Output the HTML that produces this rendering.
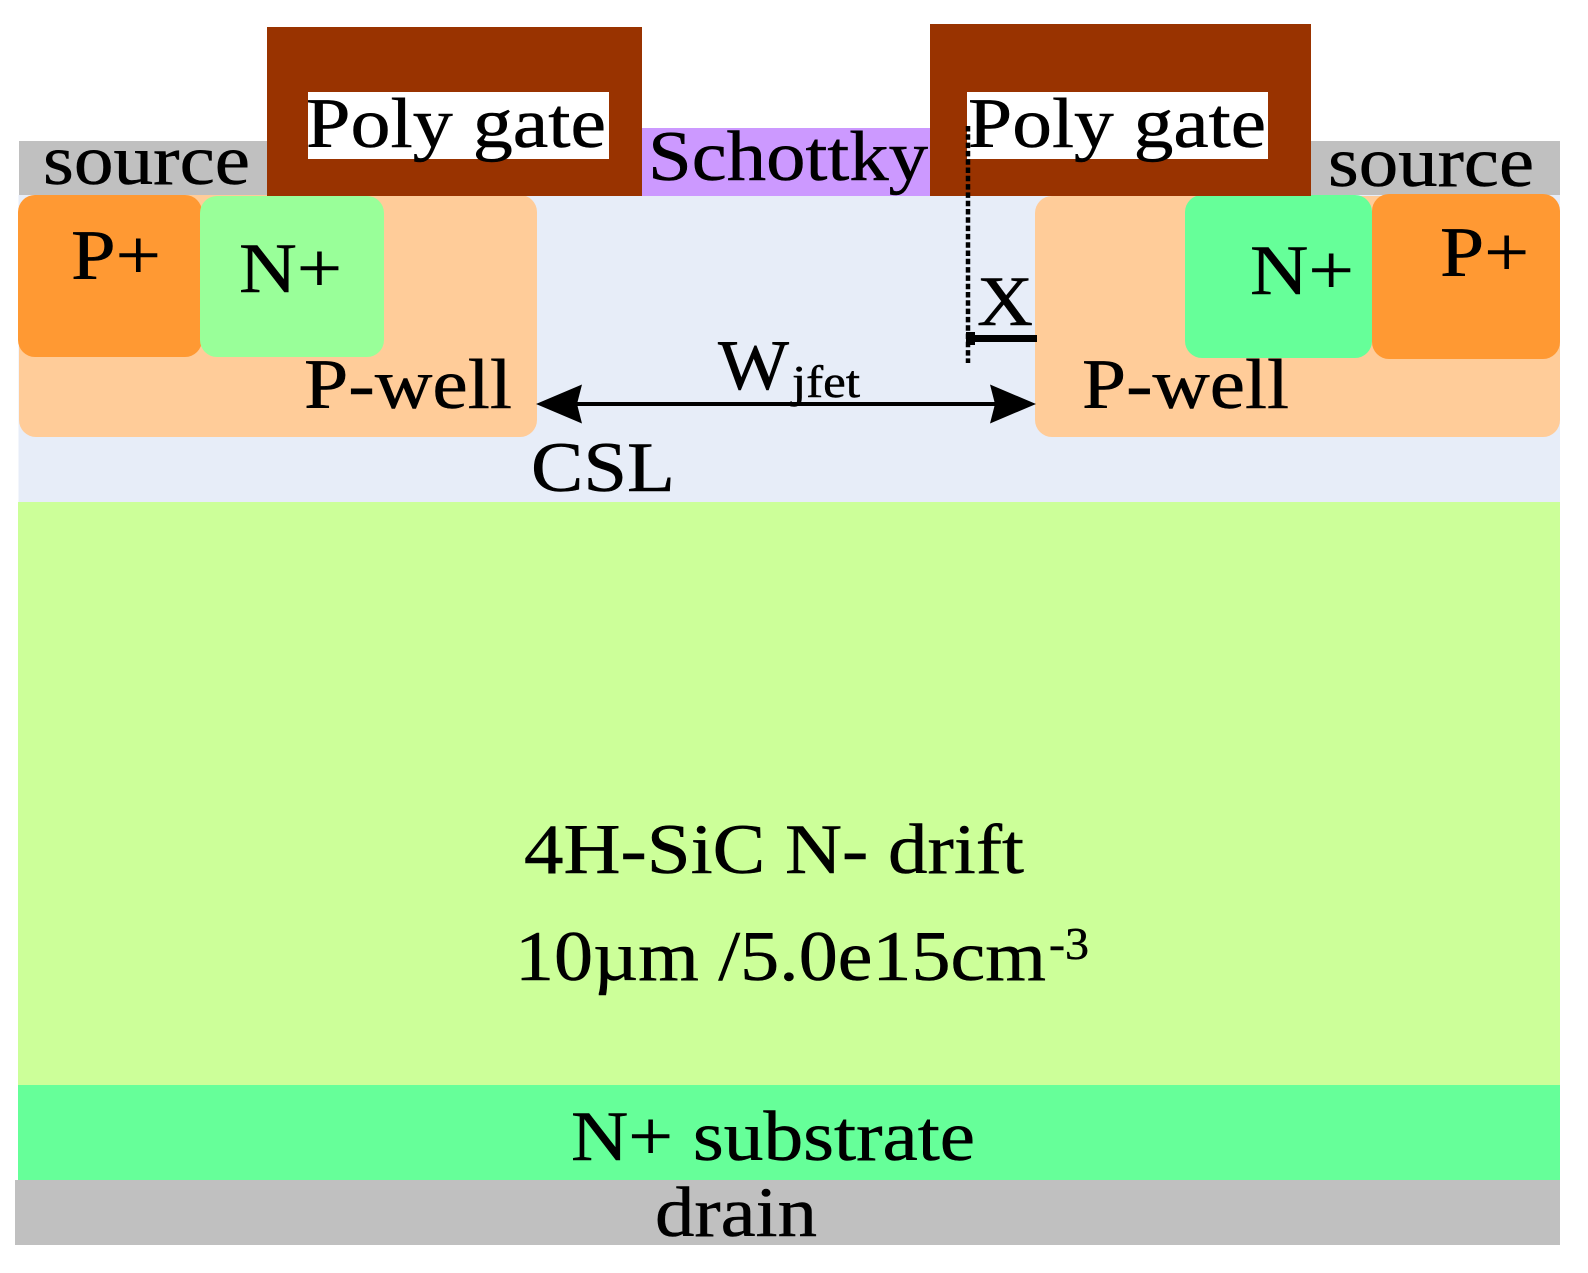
<!DOCTYPE html>
<html>
<head>
<meta charset="utf-8">
<style>
html,body{margin:0;padding:0;background:#fff;}
svg{display:block;}
text{font-family:"Liberation Serif","Times New Roman",serif;fill:#000;stroke:#000;stroke-width:.5px;font-size:71px;}
</style>
</head>
<body>
<svg width="1588" height="1273" viewBox="0 0 1588 1273" xmlns="http://www.w3.org/2000/svg">
<rect width="1588" height="1273" fill="#fff"/>
<!-- CSL -->
<rect x="18.5" y="195" width="1541.5" height="307" fill="#e7edf8"/>
<!-- drift -->
<rect x="18" y="502" width="1542" height="583" fill="#ccff99"/>
<!-- substrate -->
<rect x="18" y="1085" width="1542" height="95" fill="#66ff99"/>
<!-- drain -->
<rect x="15" y="1180" width="1545" height="65" fill="#c0c0c0"/>
<!-- source -->
<rect x="19" y="141" width="250" height="54" fill="#c0c0c0"/>
<rect x="1309" y="141" width="251" height="54" fill="#c0c0c0"/>
<!-- schottky -->
<rect x="640" y="128" width="293" height="68" fill="#cc99ff"/>
<!-- p-wells -->
<rect x="19" y="195" width="518" height="242" rx="17" fill="#ffcc99"/>
<rect x="1035" y="196" width="525" height="241" rx="17" fill="#ffcc99"/>
<!-- P+ -->
<rect x="18" y="195" width="184" height="162" rx="17" fill="#ff9933"/>
<rect x="1372" y="194" width="188" height="165" rx="17" fill="#ff9933"/>
<!-- N+ -->
<rect x="200" y="196" width="184" height="161" rx="17" fill="#99ff99"/>
<rect x="1185" y="195" width="187" height="163" rx="17" fill="#66ff99"/>
<!-- poly -->
<rect x="267" y="27" width="375" height="169" fill="#993300"/>
<rect x="930" y="24" width="381" height="172" fill="#993300"/>
<rect x="308" y="92" width="301" height="67" fill="#fff"/>
<rect x="967" y="92" width="301" height="67" fill="#fff"/>
<!-- labels -->
<text x="43" y="184" textLength="207" lengthAdjust="spacingAndGlyphs">source</text>
<text x="1328" y="186" textLength="206" lengthAdjust="spacingAndGlyphs">source</text>
<text x="306" y="147" textLength="300" lengthAdjust="spacingAndGlyphs">Poly gate</text>
<text x="968" y="147" textLength="298" lengthAdjust="spacingAndGlyphs">Poly gate</text>
<text x="648" y="180" textLength="280" lengthAdjust="spacingAndGlyphs">Schottky</text>
<text x="71" y="279" textLength="90" lengthAdjust="spacingAndGlyphs">P+</text>
<text x="239" y="292" textLength="103" lengthAdjust="spacingAndGlyphs">N+</text>
<text x="1250" y="294" textLength="104" lengthAdjust="spacingAndGlyphs">N+</text>
<text x="1440" y="276" textLength="89" lengthAdjust="spacingAndGlyphs">P+</text>
<text x="304" y="408" textLength="208" lengthAdjust="spacingAndGlyphs">P-well</text>
<text x="1082" y="408" textLength="207" lengthAdjust="spacingAndGlyphs">P-well</text>
<text x="531" y="491" textLength="144" lengthAdjust="spacingAndGlyphs">CSL</text>
<text x="977" y="325" textLength="56" lengthAdjust="spacingAndGlyphs">X</text>
<text x="718" y="389" textLength="71" lengthAdjust="spacingAndGlyphs">W</text>
<text x="792" y="397" textLength="68" lengthAdjust="spacingAndGlyphs" style="font-size:46px">jfet</text>
<text x="524" y="873" textLength="500" lengthAdjust="spacingAndGlyphs">4H-SiC N- drift</text>
<text x="515" y="980" textLength="531" lengthAdjust="spacingAndGlyphs">10µm /5.0e15cm</text>
<text x="1049" y="959" textLength="40" lengthAdjust="spacingAndGlyphs" style="font-size:46px">-3</text>
<text x="571" y="1160" textLength="404" lengthAdjust="spacingAndGlyphs">N+ substrate</text>
<text x="655" y="1236" textLength="162" lengthAdjust="spacingAndGlyphs">drain</text>
<!-- Wjfet arrow -->
<rect x="575" y="402" width="422" height="4" fill="#000"/>
<polygon points="536,404 582,384.5 577,404 582,423.5" fill="#000"/>
<polygon points="1036,404 990,384.5 995,404 990,423.5" fill="#000"/>
<!-- X marker -->
<line x1="968" y1="126" x2="968" y2="363" stroke="#000" stroke-width="4.5" stroke-dasharray="5.5 2.8"/>
<rect x="975" y="335" width="62" height="7" fill="#000"/>
<rect x="966" y="332" width="9" height="13" fill="#000"/>
</svg>
</body>
</html>
